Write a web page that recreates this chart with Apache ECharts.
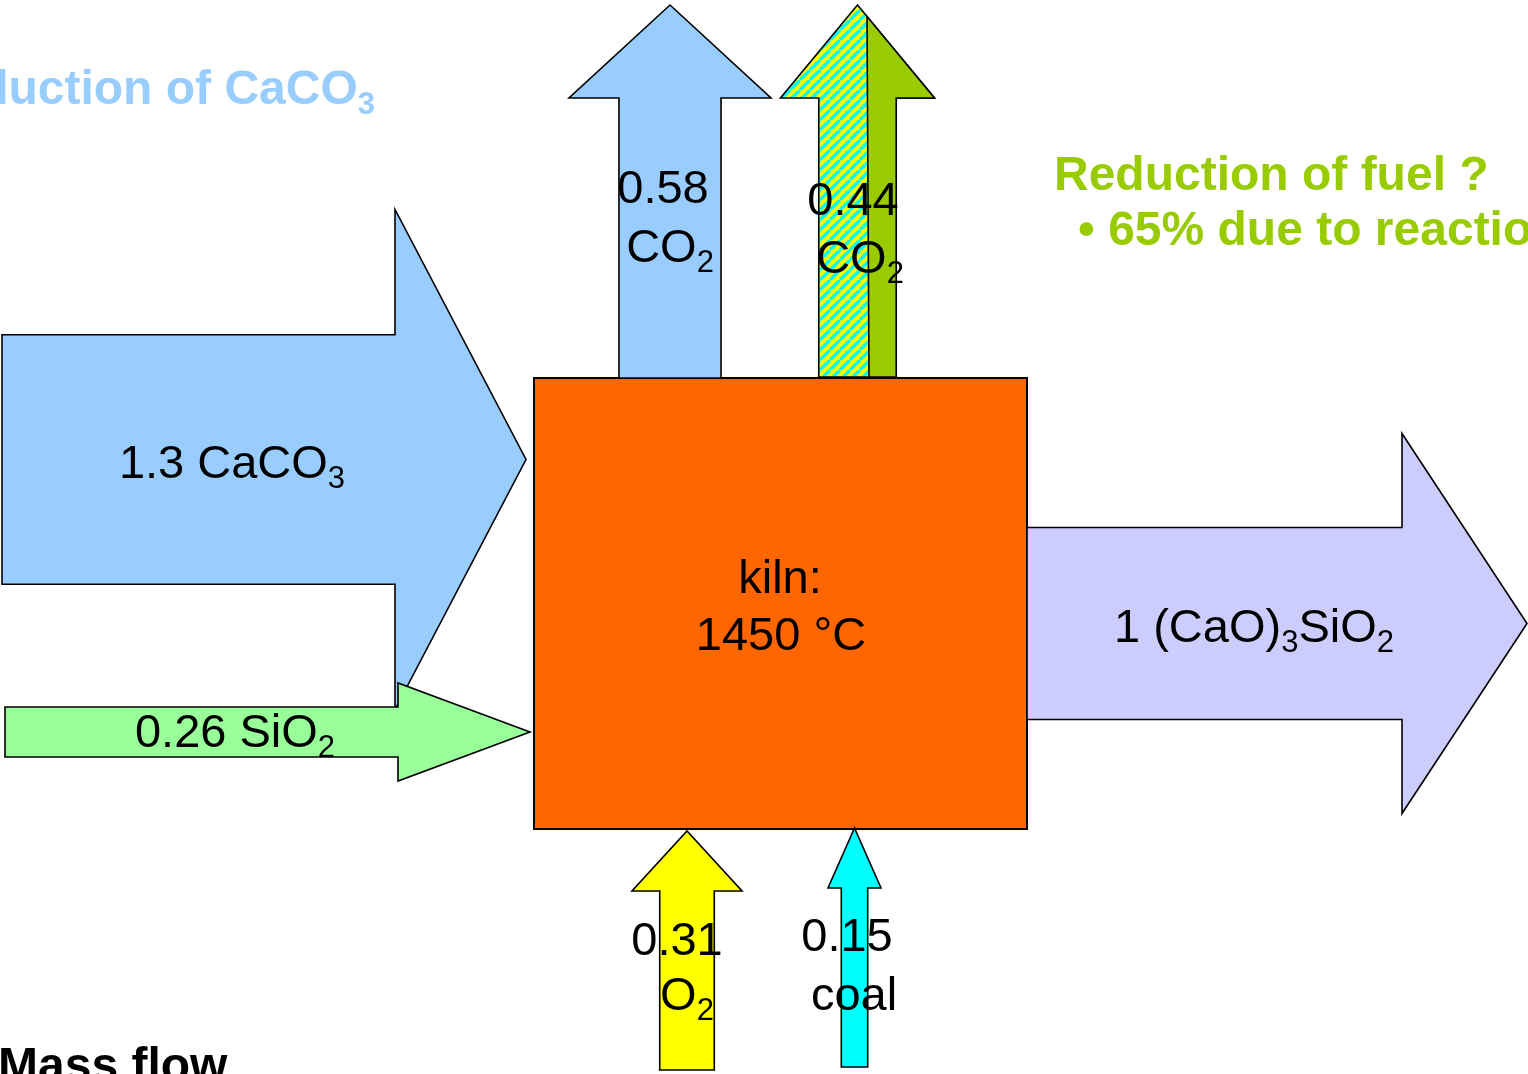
<!DOCTYPE html>
<html>
<head>
<meta charset="utf-8">
<title>Mass flow – cement kiln</title>
<script src="https://cdn.jsdelivr.net/npm/echarts@6/dist/echarts.min.js"></script>
<style>
  html, body { margin: 0; padding: 0; background: #ffffff; overflow: hidden; }
  #chart { width: 1528px; height: 1074px; }
</style>
</head>
<body>
<div id="chart"></div>
<script>
// ---- Mass flows through the kiln (per unit of clinker) ----
const flowNames  = ['CaCO3', 'SiO2', '(CaO)3SiO2', 'CO2 (calcination)', 'CO2 (combustion)', 'O2', 'coal'];
const flowValues = [1.3, 0.26, 1, 0.58, 0.44, 0.31, 0.15];
// label lines per flow; each segment is [text, isSubscript]
const flowLabelLines = [
  [[['1.3 CaCO', 0], ['3', 1]]],
  [[['0.26 SiO', 0], ['2', 1]]],
  [[['1 (CaO)', 0], ['3', 1], ['SiO', 0], ['2', 1]]],
  [[['0.58', 0]], [['CO', 0], ['2', 1]]],
  [[['0.44', 0]], [['CO', 0], ['2', 1]]],
  [[['0.31', 0]], [['O', 0], ['2', 1]]],
  [[['0.15', 0]], [['coal', 0]]]
];
const kilnLines = ['kiln:', '1450 °C'];
const noteLeft   = [['Reduction of CaCO', 0], ['3', 1]];
const noteFuel   = 'Reduction of fuel ?';
const noteBullet = '• 65% due to reaction';
const noteTitle  = 'Mass flow';

// ---- Drawing setup ----
const W = 1528, H = 1074;                 // axis units are pixels
const PX_PER_UNIT_HORIZONTAL = 192;        // shaft thickness per unit of mass, left/right flows
const PX_PER_UNIT_VERTICAL = 176;          // shaft thickness per unit of mass, upward flows
const FONT_FAMILY = '"Liberation Sans", Arial, Helvetica, sans-serif';

// stripes of yellow and cyan: gas from O2 + coal combustion
function stripePattern() {
  const n = 10;
  const c = document.createElement('canvas');
  c.width = c.height = n;
  const g = c.getContext('2d');
  g.fillStyle = '#FFFF00';
  g.fillRect(0, 0, n, n);
  g.strokeStyle = '#00FFFF';
  g.lineWidth = 3.4;
  for (const d of [-n, 0, n]) {
    g.beginPath(); g.moveTo(d, n); g.lineTo(d + n, 0); g.stroke();
  }
  return c;
}
const STRIPES = { image: stripePattern(), repeat: 'repeat' };

// geometry of each arrow: direction, centre line, start, head base, tip, head half-width
const flowLayout = [
  { dir: 'right', axis: 459.5, start: 2,    headBase: 395,  tip: 526,  headHalf: 250, fill: '#99CCFF',
    labels: [[232, 478]] },
  { dir: 'right', axis: 732,   start: 5,    headBase: 398,  tip: 530,  headHalf: 49,  fill: '#99FF99',
    labels: [[235, 747]] },
  { dir: 'right', axis: 623.5, start: 1027, headBase: 1402, tip: 1527, headHalf: 190, fill: '#CCCCFF',
    labels: [[1254, 642]] },
  { dir: 'up',    axis: 670,   start: 378,  headBase: 98,   tip: 5,    headHalf: 101, fill: '#99CCFF',
    labels: [[663, 203], [670, 262]] },
  { dir: 'up',    axis: 857.5, start: 377,  headBase: 98,   tip: 5,    headHalf: 77,  fill: STRIPES,
    split: { top: 9.5, bottom: 11.5, fill: '#99CC00' },
    labels: [[853, 215], [860, 273]] },
  { dir: 'up',    axis: 687,   start: 1070, headBase: 891,  tip: 831,  headHalf: 55,  fill: '#FFFF00',
    labels: [[677, 955], [687, 1010]] },
  { dir: 'up',    axis: 854.5, start: 1067, headBase: 888,  tip: 828,  headHalf: 26.5, fill: '#00FFFF',
    labels: [[847, 951], [854, 1010]] }
];
const kilnBox = { x0: 534, y0: 378, x1: 1027, y1: 829, fill: '#FF6600', labels: [[780, 593], [781, 650]] };

const LABEL_STYLE = { size: 47, subSize: 31, subDrop: 10, weight: 'normal', color: '#000000', anchor: 'center' };

// ---- text helpers ----
const measureCtx = document.createElement('canvas').getContext('2d');
function fontOf(size, weight) { return (weight || 'normal') + ' ' + size + 'px ' + FONT_FAMILY; }
function textWidth(t, size, weight) {
  measureCtx.font = fontOf(size, weight);
  return measureCtx.measureText(t).width;
}
// distance from the alphabetic baseline up to the canvas "middle" line
function middleOffset(size, weight) {
  measureCtx.font = fontOf(size, weight);
  measureCtx.textBaseline = 'alphabetic';
  const a = measureCtx.measureText('H').actualBoundingBoxAscent;
  measureCtx.textBaseline = 'middle';
  const m = measureCtx.measureText('H').actualBoundingBoxAscent;
  measureCtx.textBaseline = 'alphabetic';
  return a - m;
}
// one line of a chemical formula laid out around (x, baseline), with subscripts dropped
function formulaLine(segments, x, baseline, o) {
  const widths = segments.map(([t, sub]) => textWidth(t, sub ? o.subSize : o.size, o.weight));
  const total = widths.reduce((a, b) => a + b, 0);
  let cur = o.anchor === 'left' ? x : o.anchor === 'right' ? x - total : x - total / 2;
  return segments.map(([t, sub], k) => {
    const size = sub ? o.subSize : o.size;
    const base = baseline + (sub ? o.subDrop : 0);
    const el = {
      type: 'text', x: cur, y: base - middleOffset(size, o.weight), silent: true,
      style: {
        text: t, font: fontOf(size, o.weight), fill: o.color,
        align: 'left', textAlign: 'left', verticalAlign: 'middle', textVerticalAlign: 'middle'
      }
    };
    cur += widths[k];
    return el;
  });
}

// outline of a block arrow in axis units, shaft thickness taken from the flow value
function arrowOutline(L, value) {
  const a = L.axis, s = L.start, b = L.headBase, t = L.tip, h = L.headHalf;
  if (L.dir === 'right') {
    const half = value * PX_PER_UNIT_HORIZONTAL / 2;
    return [[s, a - half], [b, a - half], [b, a - h], [t, a], [b, a + h], [b, a + half], [s, a + half]];
  }
  const half = value * PX_PER_UNIT_VERTICAL / 2;
  return [[a - half, s], [a - half, b], [a - h, b], [a, t], [a + h, b], [a + half, b], [a + half, s]];
}

function renderFlow(params, api) {
  const i = params.dataIndex;
  const value = api.value(1);
  const L = flowLayout[i];
  const children = [];
  const pts = arrowOutline(L, value).map(p => api.coord(p));
  children.push({
    type: 'polygon', shape: { points: pts },
    style: { fill: L.fill, stroke: '#000000', lineWidth: 1.6, lineJoin: 'miter' }
  });
  if (L.split) {
    // right-hand share of the upward arrow in a second colour
    const a = L.axis, half = value * PX_PER_UNIT_VERTICAL / 2;
    const sx0 = a + L.split.top, sx1 = a + L.split.bottom;
    const yEdge = L.tip + (sx0 - a) * (L.headBase - L.tip) / L.headHalf;
    const sp = [[sx0, yEdge], [a + L.headHalf, L.headBase], [a + half, L.headBase],
                [a + half, L.start], [sx1, L.start]].map(p => api.coord(p));
    children.push({
      type: 'polygon', shape: { points: sp },
      style: { fill: L.split.fill, stroke: '#000000', lineWidth: 1.6 }
    });
  }
  flowLabelLines[i].forEach((line, k) => {
    const [lx, ly] = api.coord(L.labels[k]);
    formulaLine(line, lx, ly, LABEL_STYLE).forEach(el => children.push(el));
  });
  return { type: 'group', children };
}

function renderKiln(params, api) {
  const p0 = api.coord([kilnBox.x0, kilnBox.y0]);
  const p1 = api.coord([kilnBox.x1, kilnBox.y1]);
  const children = [{
    type: 'rect',
    shape: { x: p0[0], y: p0[1], width: p1[0] - p0[0], height: p1[1] - p0[1] },
    style: { fill: kilnBox.fill, stroke: '#000000', lineWidth: 2 }
  }];
  kilnLines.forEach((t, k) => {
    const [lx, ly] = api.coord(kilnBox.labels[k]);
    formulaLine([[t, 0]], lx, ly, LABEL_STYLE).forEach(el => children.push(el));
  });
  return { type: 'group', children };
}

// side notes
const NOTE = { size: 48, subSize: 31, subDrop: 10, weight: 'bold' };
const notes = [].concat(
  formulaLine(noteLeft, 375, 104, Object.assign({}, NOTE, { color: '#99CCFF', anchor: 'right' })),
  formulaLine([[noteFuel, 0]], 1054, 190, Object.assign({}, NOTE, { color: '#99CC00', anchor: 'left' })),
  formulaLine([[noteBullet, 0]], 1078, 245, Object.assign({}, NOTE, { color: '#99CC00', anchor: 'left' })),
  formulaLine([[noteTitle, 0]], -2, 1081, Object.assign({}, NOTE, { color: '#000000', anchor: 'left' }))
);

const chart = echarts.init(document.getElementById('chart'), null, { renderer: 'canvas' });
chart.setOption({
  backgroundColor: '#ffffff',
  animation: false,
  grid: { left: 0, right: 0, top: 0, bottom: 0 },
  xAxis: { type: 'value', min: 0, max: W, show: false },
  yAxis: { type: 'value', min: 0, max: H, inverse: true, show: false },
  tooltip: { show: false },
  series: [
    {
      name: 'kiln', type: 'custom', coordinateSystem: 'cartesian2d', z: 1, clip: false,
      data: [[0, 0]], renderItem: renderKiln
    },
    {
      name: 'flows', type: 'custom', coordinateSystem: 'cartesian2d', z: 2, clip: false,
      encode: { x: 0, y: 1 },
      data: flowValues.map((v, i) => ({ name: flowNames[i], value: [i, v] })),
      renderItem: renderFlow
    }
  ],
  graphic: { elements: notes.map(el => Object.assign({}, el, { z: 10 })) }
});
</script>
</body>
</html>
